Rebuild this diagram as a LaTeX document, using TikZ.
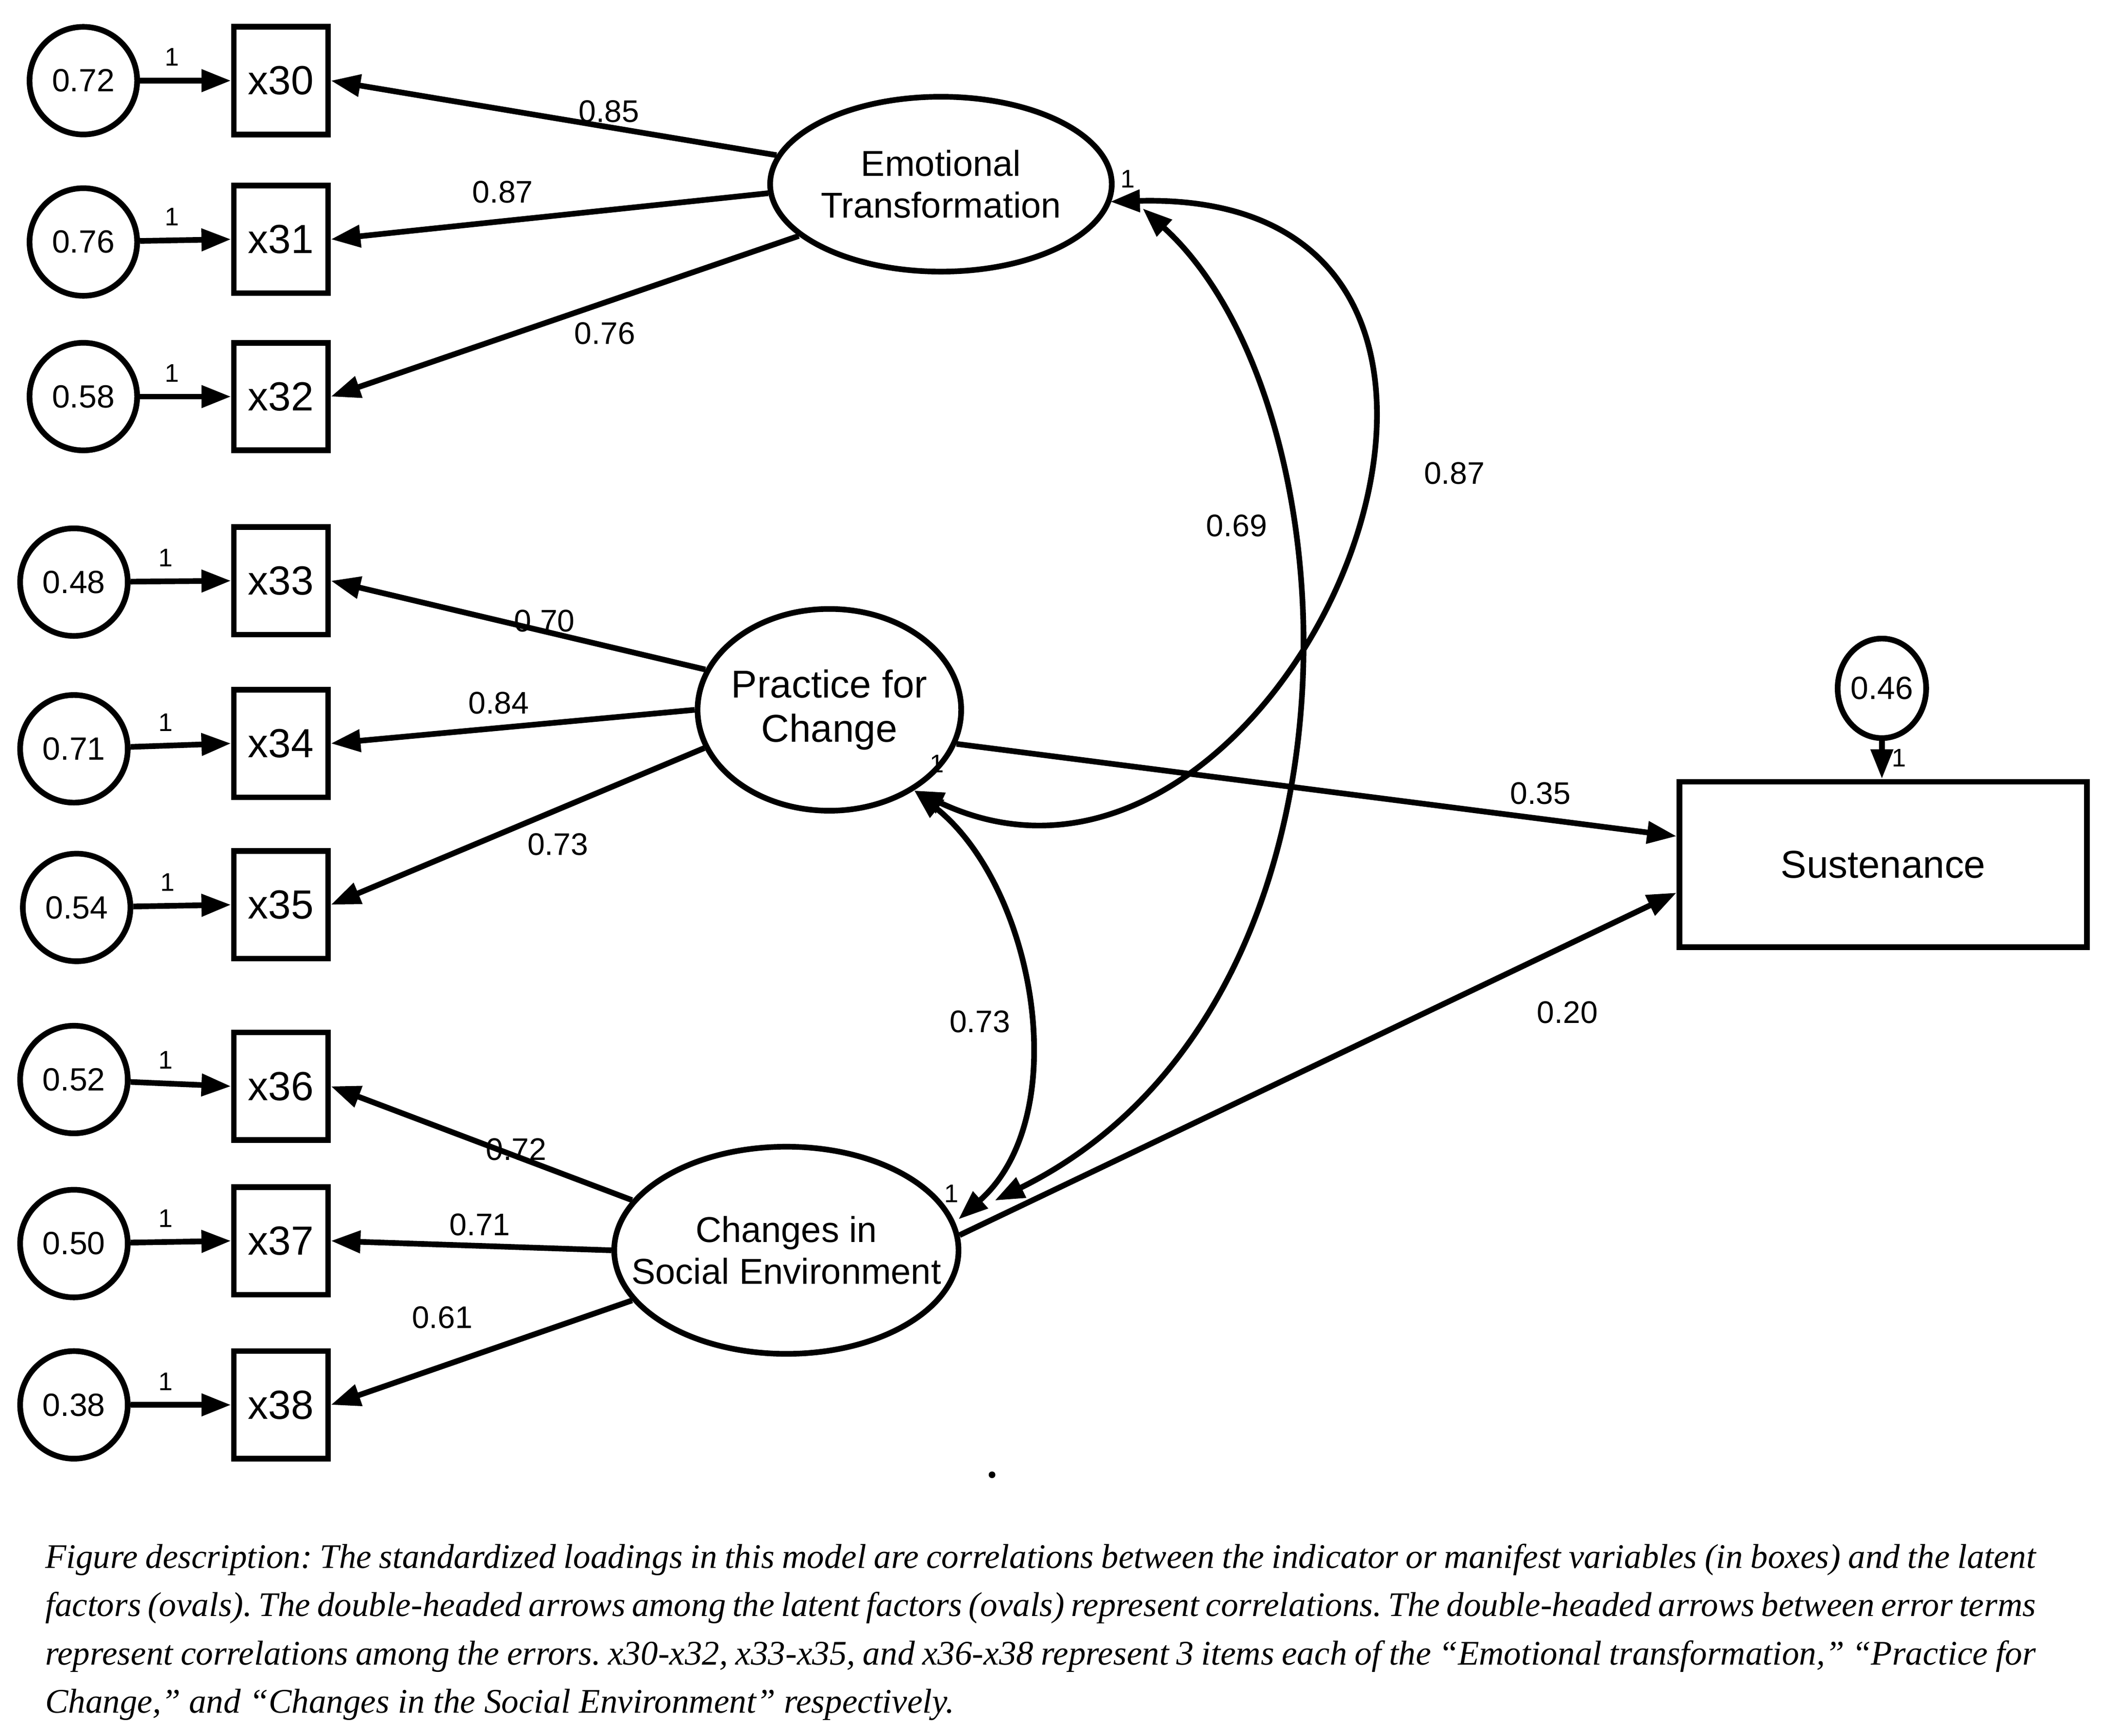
\documentclass[tikz,border=0pt]{standalone}
\usepackage{fontspec}
\setmainfont{Liberation Sans}
\newfontfamily\capfont{Liberation Serif}
\usetikzlibrary{shapes.geometric,arrows.meta}
\frenchspacing
\begin{document}
\begin{tikzpicture}[x=0.01cm,y=-0.01cm,
  lw/.style={line width=1.2pt},
  tip/.style={-{Triangle[length=0.22cm,width=0.16cm]}},
  dtip/.style={{Triangle[length=0.22cm,width=0.16cm]}-{Triangle[length=0.22cm,width=0.16cm]}},
  err/.style={circle,draw,lw,minimum size=0.8cm,inner sep=0,font=\fontsize{6.8}{8}\selectfont},
  box/.style={rectangle,draw,lw,minimum width=0.7cm,minimum height=0.8cm,inner sep=0,font=\fontsize{8.6}{10}\selectfont},
  lat/.style={ellipse,draw,lw,inner sep=0},
  lt/.style={align=center,font=\fontsize{7.6}{8.8}\selectfont},
  num/.style={font=\fontsize{6.6}{8}\selectfont,inner sep=1pt},
  one/.style={font=\fontsize{5.4}{6}\selectfont,inner sep=0.5pt}]
\useasboundingbox (0,0) rectangle (1563,1291);
% latent
\node[lat,minimum width=2.54cm,minimum height=1.3cm] (ET) at (700,137) {};
\node[lt] at (ET) {Emotional\\Transformation};
\node[lat,minimum width=1.96cm,minimum height=1.5cm] (PC) at (617,528) {};
\node[lt,font=\fontsize{8.2}{9.4}\selectfont] at (PC) {Practice for\\Change};
\node[lat,minimum width=2.56cm,minimum height=1.54cm] (CS) at (585,930) {};
\node[lt] at (CS) {Changes in\\Social Environment};
\node[box,minimum width=3.03cm,minimum height=1.23cm,font=\fontsize{8.2}{10}\selectfont] (S) at (1401,643) {Sustenance};
\node[ellipse,draw,lw,minimum width=0.56cm,minimum height=0.74cm,inner sep=0,font=\fontsize{6.8}{8}\selectfont] (eS) at (1400,512) {0.46};
\draw[lw,tip] (eS) -- (S.north -| eS) node[one,pos=0.45,right=1pt] {1};
% indicators
\foreach \n/\ey/\ex/\by/\v in {30/60/62/60/0.72,31/180/62/178/0.76,32/295/62/295/0.58,33/433/55/432/0.48,34/557/55/553/0.71,35/675/57/673/0.54,36/803/55/808/0.52,37/925/55/923/0.50,38/1045/55/1045/0.38}{
  \node[box] (x\n) at (209,\by) {x\n};
  \node[err] (e\n) at (\ex,\ey) {\v};
  \draw[lw,tip] (e\n) -- (x\n.west) node[one,pos=0.35,above=2pt] {1};
}
% loadings
\draw[lw,tip] (ET.170) -- (x30.east);
\draw[lw,tip] (ET.183) -- (x31.east);
\draw[lw,tip] (ET.200) -- (x32.east);
\draw[lw,tip] (PC.162) -- (x33.east);
\draw[lw,tip] (PC.180) -- (x34.east);
\draw[lw,tip] (PC.197) -- (x35.east);
\draw[lw,tip] (CS.162) -- (x36.east);
\draw[lw,tip] (CS.180) -- (x37.east);
\draw[lw,tip] (CS.198) -- (x38.east);
\node[num] at (453,83) {0.85};
\node[num] at (374,143) {0.87};
\node[num] at (450,248) {0.76};
\node[num] at (405,462) {0.70};
\node[num] at (371,523) {0.84};
\node[num] at (415,628) {0.73};
\node[num] at (384,855) {0.72};
\node[num] at (357,911) {0.71};
\node[num] at (329,980) {0.61};
% structural
\draw[lw,tip] (PC.-15) -- (S.west |- 0,622);
\draw[lw,tip] (CS.5) -- (S.west |- 0,664);
\node[num] at (1146,590) {0.35};
\node[num] at (1166,753) {0.20};
% correlations
\coordinate (a1) at (680,588); \coordinate (a2) at (826,150);
\draw[lw,dtip] (a1) .. controls (960,720) and (1200,140) .. (a2);
\coordinate (b1) at (850,155); \coordinate (b2) at (740,893);
\draw[lw,dtip] (b1) .. controls (1010,300) and (1030,750) .. (b2);
\coordinate (c1) at (680,588); \coordinate (c2) at (713,907);
\draw[lw,dtip] (c1) .. controls (770,660) and (800,830) .. (c2);
\node[num] at (1082,352) {0.87};
\node[num] at (920,391) {0.69};
\node[num] at (729,760) {0.73};
\node[one] at (839,133) {1};
\node[one] at (697,568) {1};
\node[one] at (708,888) {1};
\fill (738,1097) circle (2.5);
% caption
\begin{scope}[every node/.style={anchor=west,inner sep=0,font=\capfont\itshape\fontsize{7.3}{9}\selectfont}]
\node at (33,1160) {\makebox[14.8cm][s]{Figure description: The standardized loadings in this model are correlations between the indicator or manifest variables (in boxes) and the latent}};
\node at (33,1196) {\makebox[14.8cm][s]{factors (ovals). The double-headed arrows among the latent factors (ovals) represent correlations. The double-headed arrows between error terms}};
\node at (33,1232) {\makebox[14.8cm][s]{represent correlations among the errors. x30-x32, x33-x35, and x36-x38 represent 3 items each of the “Emotional transformation,” “Practice for}};
\node at (33,1268) {Change,” and “Changes in the Social Environment” respectively.};
\end{scope}
\end{tikzpicture}
\end{document}
